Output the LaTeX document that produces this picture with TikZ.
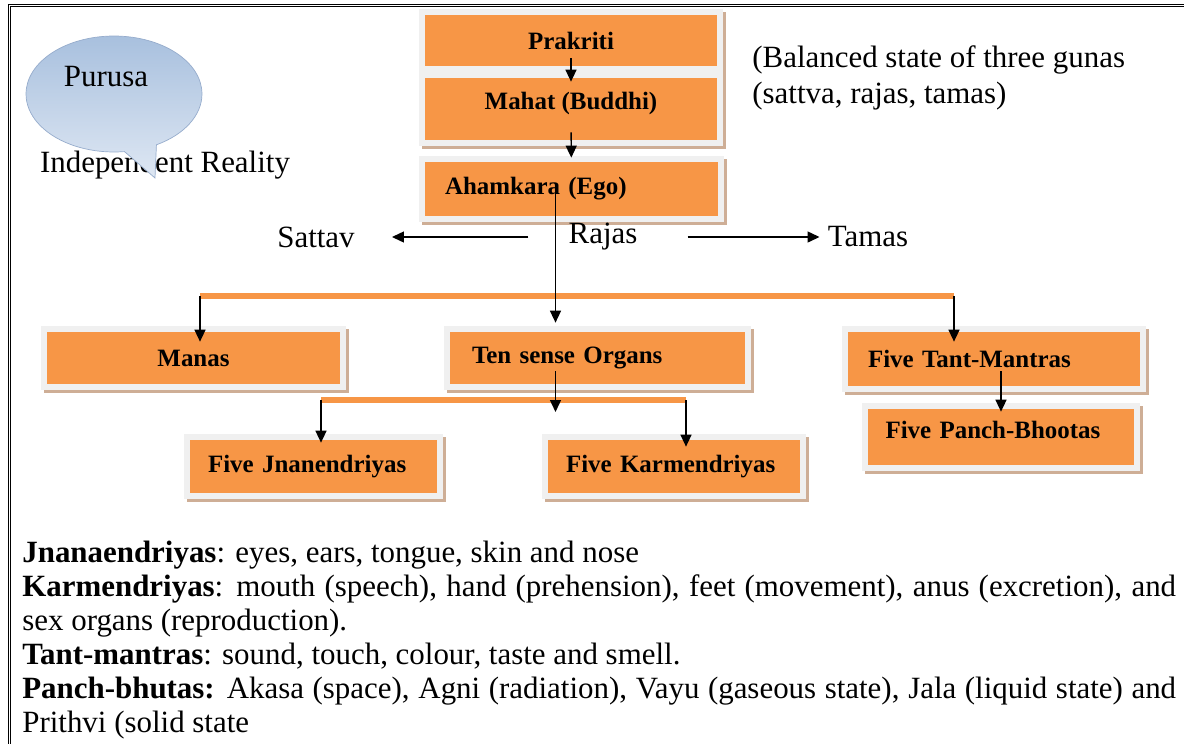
\documentclass[tikz,border=0pt]{standalone}
\usepackage{fontspec}
\setmainfont{Liberation Serif}
\usetikzlibrary{arrows.meta,positioning,shapes.callouts,shapes.geometric,backgrounds,fit}
\definecolor{boxorange}{RGB}{247,150,70}
\definecolor{boxframe}{RGB}{240,240,240}
\definecolor{boxshade}{RGB}{206,174,150}
\definecolor{calltop}{RGB}{168,192,222}
\definecolor{callbot}{RGB}{222,231,243}
\definecolor{calledge}{RGB}{150,172,204}

\begin{document}
\begin{tikzpicture}[x=0.02cm, y=-0.02cm,
  orgbox/.style={fill=boxorange, inner xsep=0.36cm, inner ysep=0pt,
    preaction={draw=boxshade, line width=0.24cm, transform canvas={shift={(0.06cm,-0.06cm)}}},
    preaction={draw=boxframe, line width=0.24cm},
    font=\fontsize{14.2}{16}\selectfont\bfseries},
  orgfill/.style={fill=boxorange, inner sep=0pt, font=\fontsize{14.2}{16}\selectfont\bfseries},
  groupbox/.style={fill=boxframe, draw=boxframe, line width=0.24cm, inner sep=0pt,
    preaction={draw=boxshade, line width=0.24cm, transform canvas={shift={(0.06cm,-0.06cm)}}}},
  txt/.style={inner sep=0pt, font=\fontsize{17.6}{20.4}\selectfont},
  arr/.style={-{Triangle[length=2.4mm, width=2.2mm]}, thick},
  bus/.style={boxorange, line width=0.12cm}]
\useasboundingbox (0,0) rectangle (1184,744);

% Frame
\draw[double, line width=0.5pt, double distance=0.6pt] (9.5,744) -- (9.5,5.5) -- (1184,5.5);

% Purusa
\node[txt] (indep) at (165,165) {Independent Reality};
\node[ellipse callout, callout absolute pointer={(155,178)}, callout pointer arc=22,
  minimum width=3.52cm, minimum height=2.32cm, top color=calltop, bottom color=callbot,
  draw=calledge, thin, label={[txt, xshift=-0.16cm, yshift=0.34cm]center:Purusa}]
  (purusa) at (114,94) {};

% Prakriti and Mahat
\node[orgfill, minimum width=5.84cm, minimum height=1.02cm] (prak) at (571,40.5) {Prakriti};
\node[orgfill, minimum width=5.84cm, minimum height=1.24cm, text depth=0.34cm] (mahat) at (571,109) {Mahat (Buddhi)};
\begin{scope}[on background layer]
  \node[groupbox, fit=(prak)(mahat)] (upper) {};
\end{scope}
\node[orgbox, inner xsep=0.4cm, text width=5.06cm, align=left, minimum height=1.08cm] (aham) at (571.5,189) {Ahamkara (Ego)};

\draw[arr, shorten <=-0.16cm, shorten >=-0.08cm] (prak) -- (mahat);
\draw[arr, shorten <=-0.16cm, shorten >=0.08cm] (mahat) -- (aham);

\node[txt, anchor=west, align=left] (gunas) at (752,78) {(Balanced state of three gunas\\(sattva, rajas, tamas)};

% Three gunas
\node[txt] (sattav) at (316,237) {Sattav};
\node[txt] (rajas) at (603,237) {Rajas};
\node[txt] (tamas) at (868,237) {Tamas};
\draw[arr, shorten <=0.8cm, shorten >=0.74cm] (rajas.west) -- (rajas.west -| sattav.east);
\draw[arr, shorten <=1.0cm, shorten >=0.16cm] (rajas.east) -- (rajas.east -| tamas.west);

% Second row
\node[orgbox, minimum width=5.86cm, minimum height=1.04cm] (manas) at (193.5,358) {Manas};
\node[orgbox, inner xsep=0.44cm, text width=5.02cm, align=left, minimum height=1.04cm] (tenorg) at (597.5,358) {Ten sense Organs};
\node[orgbox, inner xsep=0.4cm, text width=5.04cm, align=left, minimum height=1.08cm] (tant) at (994,359) {Five Tant-Mantras};

\coordinate (busL) at (200,296);
\coordinate (busR) at (954,296);
\draw[bus] (busL) -- (busR);
\draw[arr, shorten >=-0.2cm] (busL) -- (busL |- manas.north);
\draw[arr, shorten >=-0.2cm] (busR) -- (busR |- tant.north);

\coordinate (egoX) at ([xshift=-0.32cm]aham.center);
\draw[arr, shorten >=0.18cm] (egoX) -- (egoX |- tenorg.north);

% Third row
\node[orgbox, text width=4.22cm, align=left, minimum height=1.06cm] (jnan) at (313.5,466.5) {Five Jnanendriyas};
\node[orgbox, text width=4.32cm, align=left, minimum height=1.06cm] (karm) at (674,466.5) {Five Karmendriyas};
\node[orgbox, text width=4.62cm, align=left, minimum height=1.12cm, text depth=0.3cm] (panch) at (1001,437) {Five Panch-Bhootas};

\coordinate (busJ) at (321,400);
\coordinate (busK) at (686,400);
\draw[bus] (busJ) -- (busK);
\draw[arr, shorten >=-0.06cm] (busJ) -- (busJ |- jnan.north);
\draw[arr, shorten >=-0.14cm] (busK) -- (busK |- karm.north);
\draw[arr, shorten >=-0.24cm] ([yshift=0.26cm]tenorg.south -| egoX) -- (egoX |- busK);
\draw[arr, shorten >=-0.06cm] ([yshift=0.3cm]tant.south -| panch.north) -- (panch.north);

% Notes
\node[txt, anchor=north west, text width=23.08cm, align=justify, font=\fontsize{17.6}{19.3}\selectfont] (notes) at (22,541)
{\textbf{Jnanaendriyas}: eyes, ears, tongue, skin and nose\\
\textbf{Karmendriyas}: mouth (speech), hand (prehension), feet (movement), anus (excretion), and\linebreak sex organs (reproduction).\\
\textbf{Tant-mantras}: sound, touch, colour, taste and smell.\\
\textbf{Panch-bhutas:} Akasa (space), Agni (radiation), Vayu (gaseous state), Jala (liquid state) and\linebreak Prithvi (solid state};
\end{tikzpicture}
\end{document}
